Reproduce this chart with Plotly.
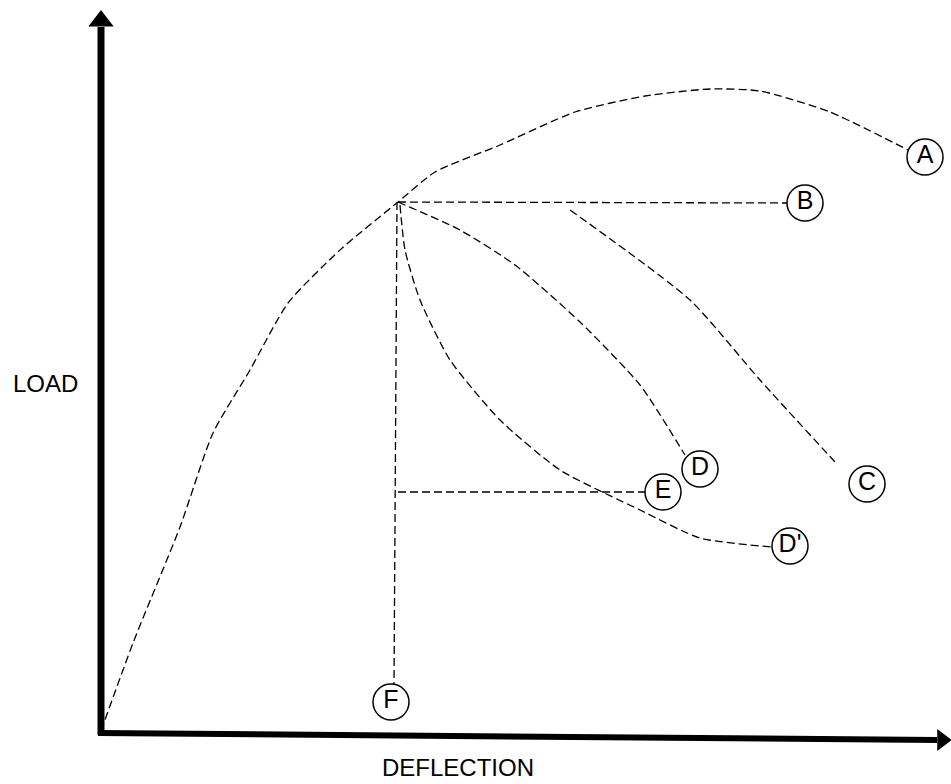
import plotly.graph_objects as go

# Curves (deflection, load) in arbitrary units
a_x = [0, 32, 79, 112, 149, 187, 239, 297, 334, 399, 474, 544, 609, 659, 729, 807]
a_y = [2, 90, 206, 300, 363, 430, 483, 531, 561, 588, 621, 637, 644, 642, 621, 583]

b_x = [297, 689]
b_y = [531, 530]

c_x = [469, 589, 659, 734]
c_y = [523, 433, 353, 271]

d_x = [297, 359, 414, 479, 539, 584]
d_y = [531, 503, 468, 411, 348, 278]

dp_x = [299, 304, 319, 349, 399, 459, 539, 599, 671]
dp_y = [528, 483, 433, 373, 313, 263, 223, 195, 186]

e_x = [297, 544]
e_y = [241, 241]

f_x = [296, 293]
f_y = [531, 49]

label_text = ["A", "B", "C", "D", "D'", "E", "F"]
label_x = [824, 704, 766, 599, 689, 562, 290]
label_y = [576, 530, 249, 264, 187, 241, 31]

x_label = "DEFLECTION"
y_label = "LOAD"

fig = go.Figure()

dash = "8px,4px"
for xs, ys in [(a_x, a_y), (b_x, b_y), (c_x, c_y), (d_x, d_y),
               (dp_x, dp_y), (e_x, e_y), (f_x, f_y)]:
    fig.add_trace(go.Scatter(x=xs, y=ys, mode="lines",
                             line=dict(color="black", width=1.3, dash=dash, shape="spline", smoothing=0.6),
                             hoverinfo="skip", showlegend=False))

# Axes with arrows
fig.add_trace(go.Scatter(x=[0, 0], y=[-2, 706], mode="lines",
                         line=dict(color="black", width=7),
                         showlegend=False, hoverinfo="skip"))
fig.add_trace(go.Scatter(x=[0], y=[712], mode="markers",
                         marker=dict(symbol="triangle-up", size=22, color="black"),
                         showlegend=False, hoverinfo="skip"))
fig.add_trace(go.Scatter(x=[-3, 836], y=[0, -7], mode="lines",
                         line=dict(color="black", width=6),
                         showlegend=False, hoverinfo="skip"))
fig.add_trace(go.Scatter(x=[841], y=[-7], mode="markers",
                         marker=dict(symbol="triangle-right", size=19, color="black"),
                         showlegend=False, hoverinfo="skip", cliponaxis=False))

# Circled labels
fig.add_trace(go.Scatter(x=label_x, y=label_y, mode="markers+text",
                         text=label_text, textposition="middle center",
                         textfont=dict(family="Liberation Sans, Arial", size=25, color="black"),
                         marker=dict(symbol="circle", size=36, color="white",
                                     line=dict(color="black", width=1.5)),
                         showlegend=False, hoverinfo="skip", cliponaxis=False))

fig.add_annotation(x=-56, y=350, text=y_label, showarrow=False,
                   font=dict(family="Liberation Sans, Arial", size=24, color="black"))
fig.add_annotation(x=357, y=-34, text=x_label, showarrow=False,
                   font=dict(family="Liberation Sans, Arial", size=24, color="black"))

fig.update_layout(
    width=951, height=784,
    margin=dict(l=0, r=0, t=0, b=0),
    paper_bgcolor="white", plot_bgcolor="white",
    hovermode=False,
    xaxis=dict(range=[-101, 850], visible=False, fixedrange=True),
    yaxis=dict(range=[-51, 733], visible=False, fixedrange=True),
)

fig.write_html("out.html",
               config={"displayModeBar": False, "staticPlot": True},
               post_script="document.body.style.margin='0';document.body.style.overflow='hidden';")
